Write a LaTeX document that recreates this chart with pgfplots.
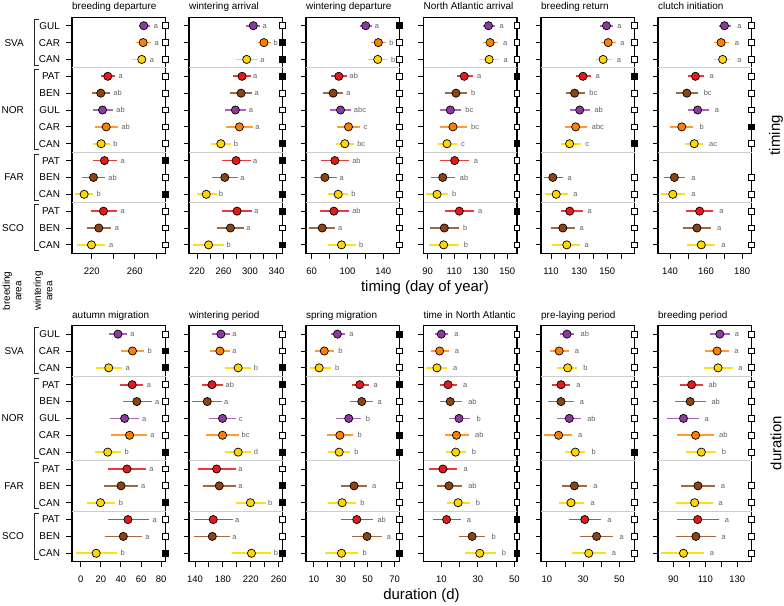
\documentclass[border=0pt]{standalone}
\usepackage{pgfplots}
\pgfplotsset{compat=1.18}
\usepackage{pgfplotstable}
\usepackage{fontspec}
\setmainfont{Liberation Sans}

\definecolor{c1}{HTML}{8B3A9E}\definecolor{l1}{HTML}{A866C0}% GUL
\definecolor{c2}{HTML}{FF7F00}\definecolor{l2}{HTML}{FF9A35}% CAR
\definecolor{c3}{HTML}{FFD600}\definecolor{l3}{HTML}{FFDF1A}% CAN
\definecolor{c4}{HTML}{E31A1C}\definecolor{l4}{HTML}{E8393B}% PAT
\definecolor{c5}{HTML}{8B4513}\definecolor{l5}{HTML}{A4683F}% BEN

% columns: row, wintering area (+ code 1 GUL,2 CAR,3 CAN,4 PAT,5 BEN), mean, CI low, CI high, letter, square (1 filled, 0 open)
\pgfplotstableread{
row wa cc m lo hi lab sq
1 GUL 1 268.4 263.7 274.3 a 0
2 CAR 2 267.8 261.0 274.9 a 0
3 CAN 3 266.5 257.6 270.6 a 0
4 PAT 4 234.9 228.7 241.4 a 0
5 BEN 5 228.4 220.4 236.7 ab 0
6 GUL 1 230.0 221.0 239.5 ab 0
7 CAR 2 233.4 223.4 244.2 ab 0
8 CAN 3 228.7 221.0 236.5 b 0
9 PAT 4 231.8 221.0 243.3 a 1
10 BEN 5 221.6 211.0 232.0 ab 0
11 CAN 3 212.9 204.0 221.0 b 1
12 PAT 4 230.9 219.4 243.3 a 0
13 BEN 5 226.5 215.7 238.0 a 0
14 CAN 3 219.7 206.0 232.7 a 0
}\tA
\pgfplotstableread{
row wa cc m lo hi lab sq
1 GUL 1 305.0 294.5 315.5 a 0
2 CAR 2 321.0 312.0 332.0 b 1
3 CAN 3 295.0 279.5 312.0 a 1
4 PAT 4 288.0 274.5 301.0 a 1
5 BEN 5 286.5 269.5 303.5 a 0
6 GUL 1 278.0 262.0 294.5 a 0
7 CAR 2 284.0 264.5 304.5 a 0
8 CAN 3 256.0 241.0 272.0 b 1
9 PAT 4 279.0 258.0 301.0 a 1
10 BEN 5 262.0 243.0 282.0 a 0
11 CAN 3 234.0 219.5 249.5 b 1
12 PAT 4 280.5 258.0 303.0 a 1
13 BEN 5 270.5 249.5 291.0 a 0
14 CAN 3 237.5 213.5 261.0 b 1
}\tB
\pgfplotstableread{
row wa cc m lo hi lab sq
1 GUL 1 120.3 113.7 127.0 a 1
2 CAR 2 134.4 126.7 143.3 b 0
3 CAN 3 133.7 122.9 145.0 b 0
4 PAT 4 90.3 81.4 98.9 ab 0
5 BEN 5 84.0 72.2 95.1 a 0
6 GUL 1 92.2 80.4 103.7 abc 0
7 CAR 2 101.1 87.8 114.4 c 0
8 CAN 3 97.0 87.0 107.4 bc 0
9 PAT 4 85.9 70.3 101.8 ab 0
10 BEN 5 74.8 62.6 87.8 a 0
11 CAN 3 89.6 78.5 100.7 b 0
12 PAT 4 84.8 69.2 101.8 ab 0
13 BEN 5 71.8 57.4 85.9 a 0
14 CAN 3 93.3 78.5 109.3 b 0
}\tC
\pgfplotstableread{
row wa cc m lo hi lab sq
1 GUL 1 135.8 131.3 140.8 a 0
2 CAR 2 137.0 131.3 143.3 a 0
3 CAN 3 136.3 128.8 143.8 a 0
4 PAT 4 117.5 111.8 123.8 a 1
5 BEN 5 111.3 103.3 119.3 b 0
6 GUL 1 107.0 99.5 115.0 bc 0
7 CAR 2 109.0 99.5 119.3 bc 0
8 CAN 3 104.5 97.5 111.8 c 1
9 PAT 4 110.3 99.5 121.3 a 0
10 BEN 5 101.3 92.5 110.8 ab 0
11 CAN 3 97.0 88.8 105.0 b 0
12 PAT 4 113.8 103.3 124.5 a 1
13 BEN 5 102.5 92.0 113.3 b 0
14 CAN 3 102.0 90.8 113.8 b 0
}\tD
\pgfplotstableread{
row wa cc m lo hi lab sq
1 GUL 1 149.4 144.6 153.7 a 0
2 CAR 2 150.6 145.4 155.9 a 0
3 CAN 3 147.0 141.1 153.4 a 0
4 PAT 4 132.7 128.0 138.2 a 1
5 BEN 5 126.8 120.4 133.8 bc 0
6 GUL 1 130.4 123.2 137.5 ab 0
7 CAR 2 127.5 120.2 135.6 abc 0
8 CAN 3 123.2 116.8 131.0 c 1
10 BEN 5 111.3 104.8 118.4 a 0
11 CAN 3 113.7 105.4 122.4 a 0
12 PAT 4 123.3 116.8 132.5 a 0
13 BEN 5 118.4 110.0 126.8 a 0
14 CAN 3 121.2 110.6 130.4 a 0
}\tE
\pgfplotstableread{
row wa cc m lo hi lab sq
1 GUL 1 170.2 167.0 173.9 a 0
2 CAR 2 168.3 164.2 172.6 a 0
3 CAN 3 169.2 164.6 173.9 a 0
4 PAT 4 154.1 149.7 158.6 a 0
5 BEN 5 149.3 143.4 155.3 bc 0
6 GUL 1 155.3 149.7 161.4 a 0
7 CAR 2 146.5 140.0 153.0 b 1
8 CAN 3 153.4 148.4 158.3 ac 0
10 BEN 5 142.4 136.6 148.4 a 0
11 CAN 3 141.5 134.8 148.4 a 0
12 PAT 4 156.4 148.9 163.9 a 0
13 BEN 5 154.9 146.9 162.7 a 0
14 CAN 3 157.3 149.3 165.1 a 0
}\tF
\pgfplotstableread{
row wa cc m lo hi lab sq
1 GUL 1 37.1 27.9 46.0 a 0
2 CAR 2 51.5 40.1 63.0 b 1
3 CAN 3 27.9 14.8 41.1 a 1
4 PAT 4 51.2 39.4 62.4 a 0
5 BEN 5 55.8 41.7 70.6 a 0
6 GUL 1 43.7 29.6 57.5 a 0
7 CAR 2 48.6 30.5 65.7 a 0
8 CAN 3 26.9 13.8 40.1 b 1
9 PAT 4 46.0 27.3 64.7 a 0
10 BEN 5 40.1 23.0 56.5 a 0
11 CAN 3 19.7 5.9 34.5 b 1
12 PAT 4 47.0 26.9 68.0 a 0
13 BEN 5 42.4 23.9 60.8 a 0
14 CAN 3 15.4 -4.9 36.2 b 1
}\tG
\pgfplotstableread{
row wa cc m lo hi lab sq
1 GUL 1 177.1 164.0 190.0 a 0
2 CAR 2 175.7 161.4 190.0 a 0
3 CAN 3 201.9 182.9 221.0 b 1
4 PAT 4 164.3 149.5 180.5 ab 1
5 BEN 5 157.6 135.2 178.1 a 0
6 GUL 1 179.5 160.0 199.5 c 0
7 CAR 2 179.5 155.2 203.3 bc 0
8 CAN 3 201.9 182.9 221.0 d 1
9 PAT 4 171.0 144.8 198.6 a 0
10 BEN 5 174.8 151.0 198.6 a 1
11 CAN 3 219.5 198.1 241.4 b 1
12 PAT 4 166.2 138.6 193.8 a 0
13 BEN 5 164.8 138.6 190.0 a 0
14 CAN 3 221.0 192.4 249.6 b 1
}\tH
\pgfplotstableread{
row wa cc m lo hi lab sq
1 GUL 1 27.5 22.4 33.0 a 1
2 CAR 2 17.7 10.7 24.8 b 0
3 CAN 3 13.9 7.0 22.4 b 0
4 PAT 4 44.1 38.4 51.0 a 1
5 BEN 5 45.6 37.2 53.9 a 0
6 GUL 1 35.9 26.8 45.3 b 0
7 CAR 2 29.3 19.9 39.1 b 1
8 CAN 3 28.8 20.6 36.7 b 1
10 BEN 5 39.9 30.5 49.8 a 0
11 CAN 3 31.0 20.6 41.1 b 0
12 PAT 4 41.9 30.5 53.9 ab 0
13 BEN 5 49.5 38.7 60.9 a 0
14 CAN 3 30.5 18.1 42.8 b 1
}\tI
\pgfplotstableread{
row wa cc m lo hi lab sq
1 GUL 1 10.0 6.3 13.7 a 0
2 CAR 2 9.1 4.5 14.0 a 0
3 CAN 3 7.6 1.7 13.1 a 0
4 PAT 4 13.7 9.1 18.6 a 0
5 BEN 5 14.9 9.1 21.4 ab 0
6 GUL 1 19.7 14.0 26.0 b 0
7 CAR 2 18.3 11.8 25.2 ab 0
8 CAN 3 17.9 12.8 23.4 b 0
9 PAT 4 10.9 3.0 18.8 a 0
10 BEN 5 14.2 7.6 21.4 ab 0
11 CAN 3 19.2 13.3 25.6 b 0
12 PAT 4 12.9 5.4 20.6 a 1
13 BEN 5 26.9 19.5 34.2 b 0
14 CAN 3 31.1 22.8 39.8 b 1
}\tJ
\pgfplotstableread{
row wa cc m lo hi lab sq
1 GUL 1 21.1 17.4 25.2 ab 0
2 CAR 2 16.8 11.8 22.0 a 0
3 CAN 3 21.5 15.6 26.7 b 0
4 PAT 4 17.8 12.8 22.9 a 0
5 BEN 5 17.8 10.9 24.8 a 0
6 GUL 1 22.4 15.6 28.9 ab 0
7 CAR 2 16.5 8.7 23.9 a 0
8 CAN 3 25.7 20.2 31.3 b 1
10 BEN 5 25.2 18.3 32.2 a 0
11 CAN 3 23.3 16.5 30.7 a 0
12 PAT 4 30.9 22.0 40.0 a 0
13 BEN 5 37.4 28.1 46.7 a 0
14 CAN 3 33.1 23.9 42.4 a 0
}\tK
\pgfplotstableread{
row wa cc m lo hi lab sq
1 GUL 1 119.1 113.2 125.2 a 0
2 CAR 2 117.4 110.0 124.8 a 0
3 CAN 3 118.0 109.4 127.3 a 0
4 PAT 4 101.4 94.2 108.6 ab 0
5 BEN 5 100.5 91.1 110.5 ab 0
6 GUL 1 96.3 85.8 106.2 a 0
7 CAR 2 103.9 92.5 115.3 ab 0
8 CAN 3 107.5 98.0 117.0 b 0
10 BEN 5 105.4 94.9 116.3 a 0
11 CAN 3 103.3 91.7 114.9 a 0
12 PAT 4 105.2 92.5 118.9 a 0
13 BEN 5 104.1 91.7 116.8 a 0
14 CAN 3 96.3 82.2 109.4 a 0
}\tL

\pgfplotsset{
  panel/.style={
    scale only axis, width=93.5bp, height=236bp, anchor=south west,
    ymin=0.5, ymax=14.5, y dir=reverse, ytick={1,...,14}, yticklabels={},
    tick align=outside, tick pos=left, major tick length=5.5bp,
    axis line style={line width=1.1bp},
    tick style={black, line width=0.9bp},
    clip=false,
    extra y ticks={3.5,8.5,11.5}, extra y tick labels={},
    extra y tick style={grid=major, tick style={draw=none}},
    major grid style={black!20, line width=1.1bp},
    xticklabel style={font=\fontsize{9.5}{11}\selectfont, yshift=-5.5bp},
    yticklabel style={font=\fontsize{10}{12}\selectfont, xshift=-3bp},
    title style={at={(0,1)}, anchor=base west, yshift=1.5bp, inner sep=0pt,
      font=\fontsize{10}{12}\selectfont},
    /pgf/number format/assume math mode=true,
  },
}

% confidence interval segments of one colour group: #1 table, #2 code
\newcommand{\cis}[2]{%
  \addplot[quiver={u=\thisrow{hi}-\thisrow{lo}, v=0}, draw=l#2, line width=1.6bp,
    mark=none, restrict expr to domain={\thisrow{cc}}{#2:#2}]
    table[x=lo, y=row] {#1};}
% mean points of one colour group
\newcommand{\pts}[2]{%
  \addplot[only marks, mark=*, mark size=4.1bp,
    mark options={fill=c#2, draw=black, line width=0.7bp},
    restrict expr to domain={\thisrow{cc}}{#2:#2}]
    table[x=m, y=row] {#1};}

\newcommand{\panelplots}[2]{%
  \cis{#1}{1}\cis{#1}{2}\cis{#1}{3}\cis{#1}{4}\cis{#1}{5}
  \pts{#1}{1}\pts{#1}{2}\pts{#1}{3}\pts{#1}{4}\pts{#1}{5}
  \addplot[draw=none, mark=none, nodes near coords, point meta=explicit symbolic,
    nodes near coords style={anchor=base west, inner sep=0pt, yshift=-2.6bp,
      font=\fontsize{7.5}{8}\selectfont, text=black!62}]
    table[x expr=\thisrow{hi}+3.3, y=row, meta=lab] {#1};
  \addplot[only marks, mark=square*, mark size=2.9bp,
    mark options={fill=black, draw=black, line width=0.9bp},
    restrict expr to domain={\thisrow{sq}}{1:1}] table[x expr=#2, y=row] {#1};
  \addplot[only marks, mark=square*, mark size=2.9bp,
    mark options={fill=white, draw=black, line width=0.9bp},
    restrict expr to domain={\thisrow{sq}}{0:0}] table[x expr=#2, y=row] {#1};
}

\newcommand{\grpbracket}[5]{% xmin, top, bottom, centre, label
  \draw[line width=0.9bp, black!85]
    ([xshift=-33bp]axis cs:#1,#2) -- ([xshift=-38bp]axis cs:#1,#2)
    -- ([xshift=-38bp]axis cs:#1,#3) -- ([xshift=-33bp]axis cs:#1,#3);
  \node[anchor=east, inner sep=0pt, font=\fontsize{10}{12}\selectfont]
    at ([xshift=-48bp]axis cs:#1,#4) {#5};}

\newcommand{\allbrackets}[1]{%
  \grpbracket{#1}{0.62}{3.35}{2}{SVA}
  \grpbracket{#1}{3.62}{8.35}{6}{NOR}
  \grpbracket{#1}{8.62}{11.35}{10}{FAR}
  \grpbracket{#1}{11.62}{14.35}{13}{SCO}}

\def\rowlabels{GUL,CAR,CAN,PAT,BEN,GUL,CAR,CAN,PAT,BEN,CAN,PAT,BEN,CAN}

\begin{document}
\begin{tikzpicture}
% ---------- timing ----------
\begin{axis}[panel, at={(72bp,352.7bp)}, xmin=201.6, xmax=288.6,
  xtick={220,240,260,280}, xticklabels={220,,260,},
  yticklabels/.expand once=\rowlabels, title={breeding departure}]
  \panelplots{\tA}{288.6}
  \allbrackets{201.6}
\end{axis}
\begin{axis}[panel, at={(189bp,352.7bp)}, xmin=208, xmax=349,
  xtick={220,240,...,340}, xticklabels={220,,260,,300,,340}, title={wintering arrival}]
  \panelplots{\tB}{349}
\end{axis}
\begin{axis}[panel, at={(306bp,352.7bp)}, xmin=53.7, xmax=158,
  xtick={60,80,...,140}, xticklabels={60,,100,,140}, title={wintering departure}]
  \panelplots{\tC}{158}
\end{axis}
\begin{axis}[panel, at={(423.5bp,352.7bp)}, xmin=86.8, xmax=157.3,
  xtick={90,100,...,150}, xticklabels={90,,110,,130,,150}, title={North Atlantic arrival}]
  \panelplots{\tD}{157.3}
\end{axis}
\begin{axis}[panel, at={(541bp,352.7bp)}, xmin=102.9, xmax=169.3,
  xtick={110,120,...,160}, xticklabels={110,,130,,150,}, title={breeding return}]
  \panelplots{\tE}{169.3}
\end{axis}
\begin{axis}[panel, at={(658bp,352.7bp)}, xmin=133.3, xmax=185.2,
  xtick={140,150,...,180}, xticklabels={140,,160,,180}, title={clutch initiation}]
  \panelplots{\tF}{185.2}
\end{axis}
% ---------- duration ----------
\begin{axis}[panel, at={(72bp,44.3bp)}, xmin=-8.6, xmax=84.3,
  xtick={0,20,...,80}, xticklabels={0,20,40,60,80},
  yticklabels/.expand once=\rowlabels, title={autumn migration}]
  \panelplots{\tG}{84.3}
  \allbrackets{-8.6}
\end{axis}
\begin{axis}[panel, at={(189bp,44.3bp)}, xmin=131.4, xmax=265.5,
  xtick={140,160,...,260}, xticklabels={140,,180,,220,,260}, title={wintering period}]
  \panelplots{\tH}{265.5}
\end{axis}
\begin{axis}[panel, at={(306bp,44.3bp)}, xmin=4.1, xmax=73.7,
  xtick={10,20,...,70}, xticklabels={10,,30,,50,,70}, title={spring migration}]
  \panelplots{\tI}{73.7}
\end{axis}
\begin{axis}[panel, at={(423.5bp,44.3bp)}, xmin=0.25, xmax=51.5,
  xtick={10,20,...,50}, xticklabels={10,,30,,50}, title={time in North Atlantic}]
  \panelplots{\tJ}{51.5}
\end{axis}
\begin{axis}[panel, at={(541bp,44.3bp)}, xmin=6.8, xmax=58.3,
  xtick={10,20,...,50}, xticklabels={10,,30,,50}, title={pre-laying period}]
  \panelplots{\tK}{58.3}
\end{axis}
\begin{axis}[panel, at={(658bp,44.3bp)}, xmin=80.3, xmax=139,
  xtick={90,100,...,130}, xticklabels={90,,110,,130}, title={breeding period}]
  \panelplots{\tL}{139}
\end{axis}
% ---------- outer labels ----------
\node[font=\fontsize{15}{18}\selectfont] at (425bp,318bp) {timing (day of year)};
\node[font=\fontsize{15}{18}\selectfont] at (421.5bp,10bp) {duration (d)};
\node[rotate=90, font=\fontsize{15}{18}\selectfont] at (776bp,470.7bp) {timing};
\node[rotate=90, font=\fontsize{15}{18}\selectfont] at (776bp,162.7bp) {duration};
\node[rotate=90, align=center, inner sep=0pt, font=\fontsize{10}{11.5}\selectfont] at (12bp,315bp) {breeding\\area};
\node[rotate=90, align=center, inner sep=0pt, font=\fontsize{10}{11.5}\selectfont] at (43bp,315bp) {wintering\\area};
\pgfresetboundingbox
\useasboundingbox (0,0) rectangle (784bp,606bp);
\end{tikzpicture}
\end{document}
